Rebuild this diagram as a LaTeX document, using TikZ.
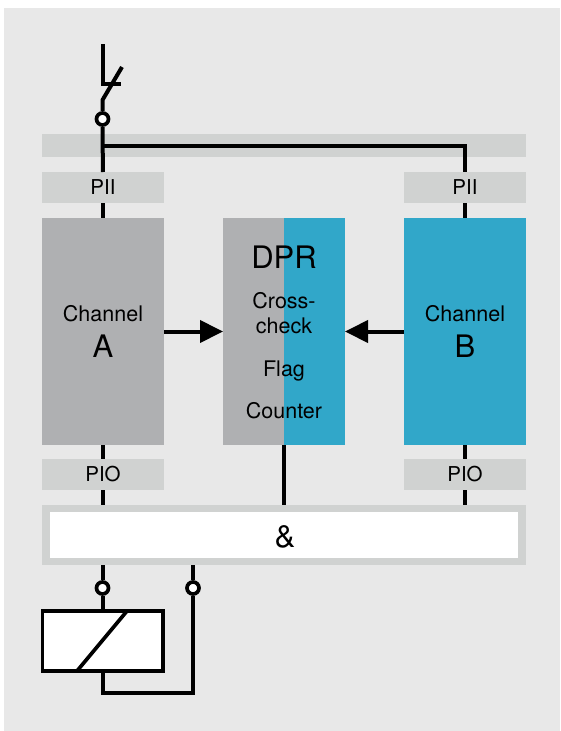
\documentclass[tikz,border=0pt]{standalone}
\usepackage{fontspec}
\setmainfont{TeX Gyre Heros}
\usepackage{xcolor}
\usepackage{tikz}
\usetikzlibrary{positioning,arrows.meta}
\definecolor{panelgray}{HTML}{E8E8E8}
\definecolor{bargray}{HTML}{D0D2D1}
\definecolor{chgray}{HTML}{AFB0B2}
\definecolor{chblue}{HTML}{31A7C9}

\begin{document}
\begin{tikzpicture}[
  x=1pt, y=-1pt,
  every node/.style={outer sep=0pt, inner sep=0pt, text=black},
  io/.style={fill=bargray, minimum width=122pt, minimum height=31pt, font=\fontsize{20.5}{24}\selectfont},
  channel/.style={minimum width=122pt, minimum height=227pt},
  halfdpr/.style={minimum width=61pt, minimum height=227pt},
  label/.style={font=\fontsize{21.5}{24}\selectfont},
  biglabel/.style={font=\fontsize{31}{36}\selectfont},
  wire/.style={line width=4pt},
  arr/.style={wire, -{Triangle[length=23pt, width=22pt]}},
  terminal/.style={circle, draw, fill=white, line width=3.7pt, minimum size=12pt, outer sep=1.85pt},
  node distance=15pt,
]
  \useasboundingbox (0,0) rectangle (560,731);
  \fill[panelgray] (4,8) rectangle (560,731);

  % channels and their inputs and outputs
  \node[channel, fill=chgray] (chanA) at (103,331.5) {};
  \node[channel, fill=chblue, right=240pt of chanA] (chanB) {};
  \node[io, above=of chanA] (piiA) {PII};
  \node[io, above=of chanB] (piiB) {PII};
  \node[io, below=14pt of chanA] (pioA) {PIO};
  \node[io, below=14pt of chanB] (pioB) {PIO};
  \node[fill=bargray, minimum width=484pt, minimum height=23pt] (bar) at (284,145.5) {};
  \node[draw=bargray, fill=white, line width=7.5pt, outer sep=3.75pt,
    minimum width=476pt, minimum height=53pt] (andbox) at (284,535) {};
  \node[font=\fontsize{31}{36}\selectfont] (andsign) at (285,537) {\&};

  % dual port RAM
  \node[halfdpr, fill=chgray] (dprA) at (253.5,331.5) {};
  \node[halfdpr, fill=chblue, right=0pt of dprA] (dprB) {};
  \node[biglabel] (dprtitle) at (284,257) {DPR};
  \node[label] (cross) at (284,301) {Cross-};
  \node[label] (check) at (284,326) {check};
  \node[label] (flag) at (284,371) {Flag};
  \node[label] (counter) at (284,411) {Counter};
  \node[label] (nameA) at (103,314) {Channel};
  \node[biglabel] (letterA) at (103,346) {A};
  \node[label] (nameB) at (465,314) {Channel};
  \node[biglabel] (letterB) at (465,346) {B};

  % input switch
  \coordinate (swTop) at (102.5,44);
  \coordinate (swCorner) at (102.5,84);
  \coordinate (swStop) at (121,84);
  \coordinate (swTip) at (122,67);
  \coordinate (swHinge) at (102.5,100);
  \node[terminal] (termIn) at (102.5,119) {};
  \draw[wire] (swTop) -- (swCorner) -- (swStop);
  \draw[wire] (swTip) -- (swHinge) -- (termIn);
  \draw[wire] (termIn) -- (piiA);
  \coordinate (tap) at (bar.center -| piiA.north);
  \draw[wire] (tap) -| (piiB);
  \draw[wire] (piiA) -- (chanA);
  \draw[wire] (piiB) -- (chanB);
  \draw[wire] (chanA) -- (pioA);
  \draw[wire] (chanB) -- (pioB);
  \draw[wire] (pioA) -- (pioA |- andbox.north);
  \draw[wire] (pioB) -- (pioB |- andbox.north);
  \draw[wire] (dprA.south east) -- (dprA.south east |- andbox.north);

  \draw[arr] (chanA) -- (dprA);
  \draw[arr] (chanB) -- (dprB);

  % output relay
  \node[draw, fill=white, line width=3.7pt, outer sep=1.85pt, minimum width=120.5pt, minimum height=60pt] (relay) at (102.75,641) {};
  \coordinate (coilA) at (77,671);
  \coordinate (coilB) at (127,611);
  \draw[line width=3.7pt] (coilA) -- (coilB);
  \node[terminal] (termA) at (102.5,588) {};
  \node[terminal] (termB) at (193,588) {};
  \coordinate (loopL) at (102.5,693);
  \coordinate (loopR) at (193,693);
  \draw[wire] (termA |- andbox.south) -- (termA);
  \draw[wire] (termA) -- (termA |- relay.north);
  \draw[wire] (termB |- andbox.south) -- (termB);
  \draw[wire] (termB) -- (loopR) -- (loopL) -- (loopL |- relay.south);
\end{tikzpicture}
\end{document}
